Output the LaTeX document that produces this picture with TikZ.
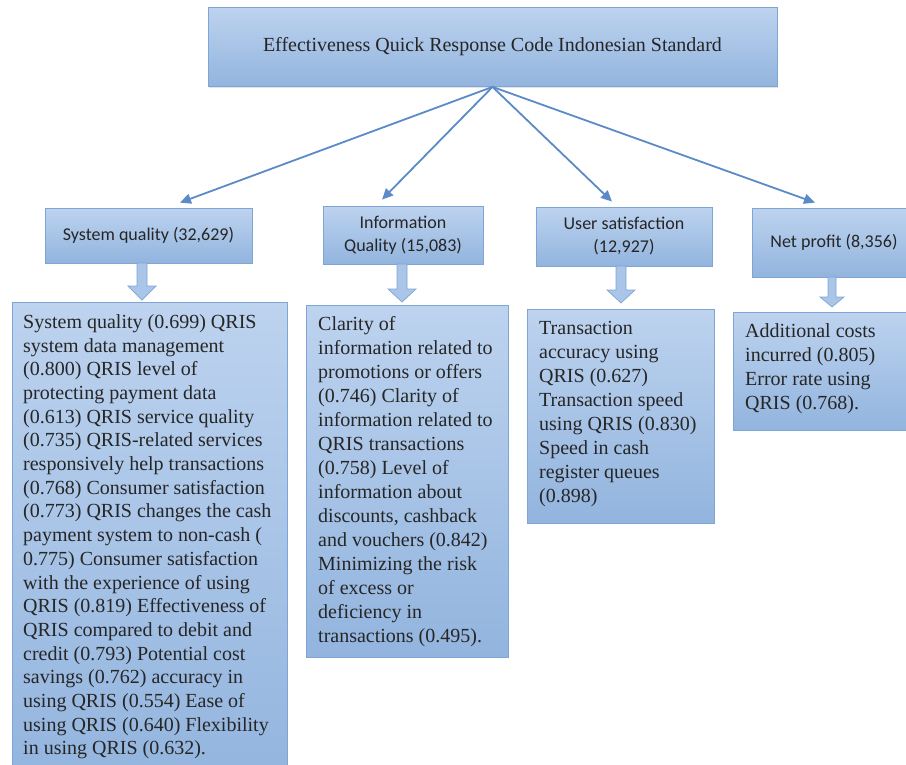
\documentclass[tikz,border=0pt]{standalone}
\usepackage{fontspec}
\setmainfont{Liberation Serif}
\newfontfamily\tnr{Liberation Serif}
\newfontfamily\hdrfont{Carlito}
\usetikzlibrary{arrows.meta,shadows}
\definecolor{boxtop}{HTML}{BDD3EF}
\definecolor{boxbot}{HTML}{92B4DE}
\definecolor{boxedge}{HTML}{7FA5D4}
\definecolor{linkblue}{HTML}{5A8BC6}
\definecolor{barrowfill}{HTML}{A9C5E8}
\newcommand{\blockarr}[6]{%
  \draw[barrow] ({#1-#5},#2) -- ({#1+#5},#2) -- ({#1+#5},#3) -- ({#1+#6},#3)
    -- (#1,#4) -- ({#1-#6},#3) -- ({#1-#5},#3) -- cycle;}
\begin{document}
\begin{tikzpicture}[x=1pt,y=-1pt,
  panel/.style={draw=boxedge, line width=0.8pt, top color=boxtop, bottom color=boxbot,
    inner sep=0pt, drop shadow={opacity=0.22, shadow xshift=1pt, shadow yshift=-1.2pt}},
  hdr/.style={panel, align=center, font=\hdrfont\fontsize{18}{23}\selectfont, text=black!85},
  detail/.style={anchor=north west, inner sep=0pt, align=left,
    font=\tnr\fontsize{20}{24}\selectfont, text=black!85},
  link/.style={draw=linkblue, line width=1.8pt, -{Triangle[length=11pt,width=10pt]}},
  barrow/.style={draw=boxedge, line width=0.7pt, fill=barrowfill}]
\useasboundingbox (0,0) rectangle (906,764);

% top box
\node[panel, minimum width=569pt, minimum height=79pt, font=\tnr\fontsize{20}{24}\selectfont, text=black!85]
  (top) at (492.5,47) {Effectiveness Quick Response Code Indonesian Standard};

% header boxes
\node[hdr, minimum width=207pt, minimum height=55pt] (sqh) at (148.5,235.5) {System quality (32,629)};
\node[hdr, minimum width=160pt, minimum height=58pt] (iqh) at (403,235) {Information\\Quality (15,083)};
\node[hdr, minimum width=176pt, minimum height=59pt] (ush) at (624,236.5) {User satisfaction\\(12,927)};
\node[hdr, minimum width=164pt, minimum height=69pt] (nph) at (834,242.5) {Net profit (8,356)};

% connectors
\draw[link] (top.south) -- ([xshift=31.5pt,yshift=5pt]sqh.north);
\draw[link] (top.south) -- ([xshift=-21pt,yshift=6pt]iqh.north);
\draw[link] (top.south) -- ([xshift=-12pt,yshift=5pt]ush.north);
\draw[link] (top.south) -- ([xshift=-19pt,yshift=5pt]nph.north);

% detail boxes
\node[panel, minimum width=275pt, minimum height=488pt] (sqd) at (149.5,546) {};
\node[panel, minimum width=202pt, minimum height=352pt] (iqd) at (407,481) {};
\node[panel, minimum width=187pt, minimum height=214pt] (usd) at (620.5,416) {};
\node[panel, minimum width=182pt, minimum height=118pt] (npd) at (824,371) {};

% block arrows
\blockarr{142}{263}{286}{300}{5}{14}
\blockarr{402}{264}{289}{302}{5}{14}
\blockarr{621}{266}{290}{303}{5}{14}
\blockarr{832}{277}{297}{307}{4}{12}

% detail texts
\node[detail, font=\tnr\fontsize{20}{23.7}\selectfont] (sqt) at (23,311.5) {\strut System quality (0.699) QRIS\\
system data management\\
(0.800) QRIS level of\\
protecting payment data\\
(0.613) QRIS service quality\\
(0.735) QRIS-related services\\
responsively help transactions\\
(0.768) Consumer satisfaction\\
(0.773) QRIS changes the cash\\
payment system to non-cash (\\
0.775) Consumer satisfaction\\
with the experience of using\\
QRIS (0.819) Effectiveness of\\
QRIS compared to debit and\\
credit (0.793) Potential cost\\
savings (0.762) accuracy in\\
using QRIS (0.554) Ease of\\
using QRIS (0.640) Flexibility\\
in using QRIS (0.632).};

\node[detail] (iqt) at (318,313.5) {\strut Clarity of\\
information related to\\
promotions or offers\\
(0.746) Clarity of\\
information related to\\
QRIS transactions\\
(0.758) Level of\\
information about\\
discounts, cashback\\
and vouchers (0.842)\\
Minimizing the risk\\
of excess or\\
deficiency in\\
transactions (0.495).};

\node[detail] (ust) at (539,317) {\strut Transaction\\
accuracy using\\
QRIS (0.627)\\
Transaction speed\\
using QRIS (0.830)\\
Speed in cash\\
register queues\\
(0.898)};

\node[detail] (npt) at (745,320) {\strut Additional costs\\
incurred (0.805)\\
Error rate using\\
QRIS (0.768).};
\end{tikzpicture}
\end{document}
